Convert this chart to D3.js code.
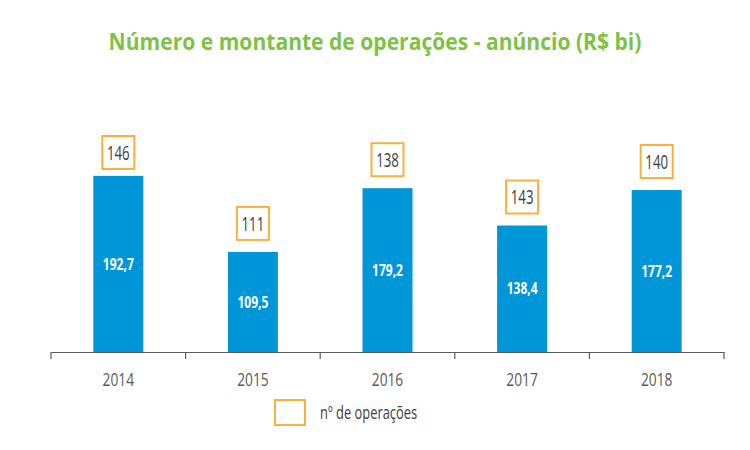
<!DOCTYPE html>
<html>
<head>
<meta charset="utf-8">
<script src="https://cdn.jsdelivr.net/npm/d3@7"></script>
<style>
  html, body { margin: 0; padding: 0; background: #fff; }
  svg { display: block; }
  text { font-family: "Open Sans", "Liberation Sans", sans-serif; }
</style>
</head>
<body>
<svg id="chart" width="750" height="450"></svg>
<script>
const titleText = "Número e montante de operações - anúncio (R$ bi)";
const years = ["2014", "2015", "2016", "2017", "2018"];
const amounts = [192.7, 109.5, 179.2, 138.4, 177.2];
const operations = [146, 111, 138, 143, 140];
const legendLabel = "nº de operações";

const fmt = v => d3.format(".1f")(v).replace(".", ",");

const svg = d3.select("#chart");
const axisY = 352;
const plotTop = 136;

const x = d3.scaleBand().domain(years).range([51, 724]).paddingInner(0).paddingOuter(0);
const y = d3.scaleLinear().domain([0, 200]).range([axisY, axisY - 182.8]);

const barW = 50;
const blue = "#0096D7";
const orange = "#FBB03B";
const green = "#7DC243";

// condensed/tall text helper: places text at (px,py) scaled by (sx,sy)
function placeText(sel, px, py, sx, sy) {
  sel.attr("x", 0).attr("y", 0)
     .attr("transform", (d, i) => `translate(${px(d, i)},${py(d, i)}) scale(${sx},${sy})`);
}

// Title
const title = svg.append("text")
  .attr("text-anchor", "middle")
  .attr("fill", green)
  .attr("font-weight", "bold")
  .attr("font-size", 24)
  .text(titleText);
const tw = title.node().getComputedTextLength();
title.attr("transform", `translate(375,50) scale(${533 / tw},1)`);

// Bars
const g = svg.append("g");
g.selectAll("rect.bar").data(years).enter().append("rect")
  .attr("class", "bar")
  .attr("x", d => x(d) + x.bandwidth() / 2 - barW / 2)
  .attr("y", (d, i) => y(amounts[i]))
  .attr("width", barW)
  .attr("height", (d, i) => axisY - y(amounts[i]))
  .attr("fill", blue);

// Bar value labels
g.selectAll("text.val").data(years).enter().append("text")
  .attr("class", "val")
  .attr("dy", "0.36em")
  .attr("text-anchor", "middle")
  .attr("fill", "#fff")
  .attr("font-weight", "bold")
  .attr("font-size", 14)
  .text((d, i) => fmt(amounts[i]))
  .call(placeText, d => x(d) + x.bandwidth() / 2, (d, i) => (y(amounts[i]) + axisY) / 2, 0.86, 1.13);

// Axis
const axis = d3.axisBottom(x).tickSize(0).tickPadding(0);
const ax = svg.append("g").attr("transform", `translate(0,${axisY})`).call(axis);
ax.select(".domain").attr("stroke", "#595959").attr("stroke-width", 1.2);
ax.selectAll(".tick text")
  .attr("dy", "0.36em")
  .attr("fill", "#595959")
  .attr("font-size", 16)
  .call(placeText, () => 0, () => 27, 0.86, 1.16);
// boundary ticks
const bounds = years.map(d => x(d)).concat([x.range()[1]]);
svg.append("g").selectAll("line").data(bounds).enter().append("line")
  .attr("x1", d => d).attr("x2", d => d)
  .attr("y1", axisY).attr("y2", axisY + 7)
  .attr("stroke", "#595959").attr("stroke-width", 1.2);

// Operation count boxes
const boxW = 32, boxH = 33;
const boxTop = i => Math.max(plotTop, y(amounts[i]) - 12 - boxH);
const bg = svg.append("g");
bg.selectAll("rect.box").data(years).enter().append("rect")
  .attr("class", "box")
  .attr("x", d => x(d) + x.bandwidth() / 2 - boxW / 2)
  .attr("y", (d, i) => boxTop(i))
  .attr("width", boxW).attr("height", boxH)
  .attr("fill", "#fff")
  .attr("stroke", orange).attr("stroke-width", 2);
bg.selectAll("text.ops").data(years).enter().append("text")
  .attr("class", "ops")
  .attr("dy", "0.36em")
  .attr("text-anchor", "middle")
  .attr("fill", "#404040")
  .attr("font-size", 17)
  .text((d, i) => operations[i])
  .call(placeText, d => x(d) + x.bandwidth() / 2, (d, i) => boxTop(i) + boxH / 2, 0.78, 1.18);

// Legend
const lg = svg.append("g");
lg.append("rect")
  .attr("x", 275).attr("y", 400).attr("width", 30).attr("height", 25)
  .attr("fill", "#fff").attr("stroke", orange).attr("stroke-width", 2);
lg.append("text")
  .datum(legendLabel)
  .attr("dy", "0.36em")
  .attr("fill", "#404040").attr("font-size", 15)
  .text(legendLabel)
  .call(placeText, () => 320, () => 412.5, 0.86, 1.15);
</script>
</body>
</html>
